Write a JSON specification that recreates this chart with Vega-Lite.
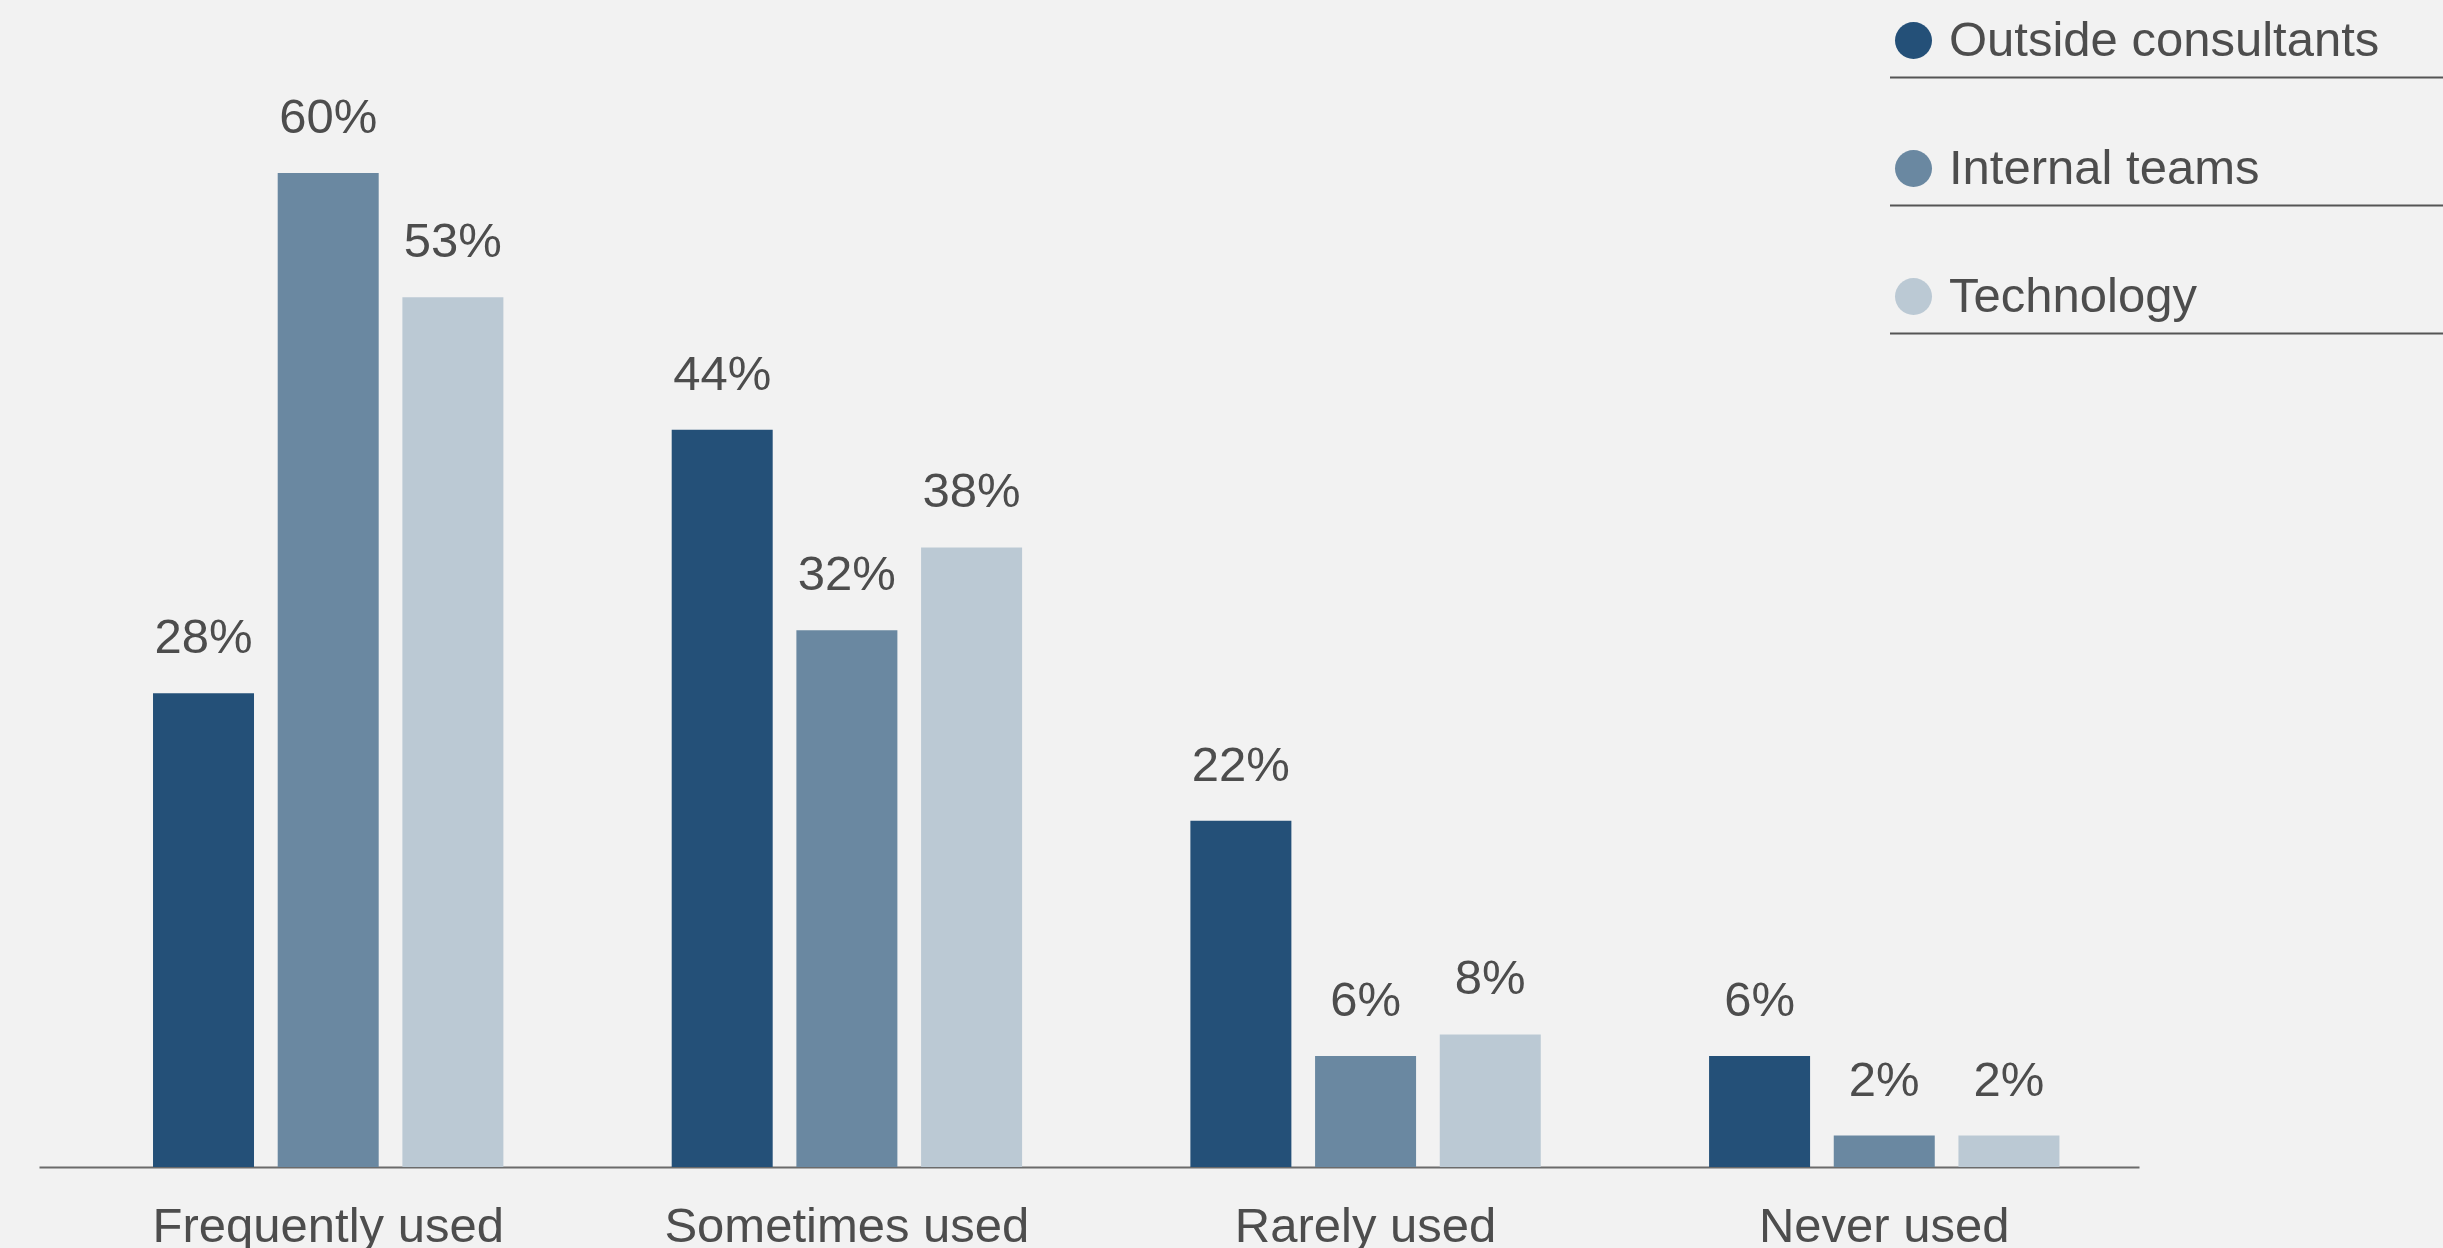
{
  "$schema": "https://vega.github.io/schema/vega-lite/v6.json",
  "width": 2100,
  "height": 994,
  "autosize": {"type": "none"},
  "padding": {"left": 39, "top": 173, "right": 304, "bottom": 81},
  "background": "#f2f2f2",
  "config": {"view": {"stroke": null}, "font": "Liberation Sans"},
  "data": {
    "values": [
      {"usage": "Frequently used", "source": "Outside consultants", "value": 28.6, "label": "28%"},
      {"usage": "Frequently used", "source": "Internal teams", "value": 60.0, "label": "60%"},
      {"usage": "Frequently used", "source": "Technology", "value": 52.5, "label": "53%"},
      {"usage": "Sometimes used", "source": "Outside consultants", "value": 44.5, "label": "44%"},
      {"usage": "Sometimes used", "source": "Internal teams", "value": 32.4, "label": "32%"},
      {"usage": "Sometimes used", "source": "Technology", "value": 37.4, "label": "38%"},
      {"usage": "Rarely used", "source": "Outside consultants", "value": 20.9, "label": "22%"},
      {"usage": "Rarely used", "source": "Internal teams", "value": 6.7, "label": "6%"},
      {"usage": "Rarely used", "source": "Technology", "value": 8.0, "label": "8%"},
      {"usage": "Never used", "source": "Outside consultants", "value": 6.7, "label": "6%"},
      {"usage": "Never used", "source": "Internal teams", "value": 1.9, "label": "2%"},
      {"usage": "Never used", "source": "Technology", "value": 1.9, "label": "2%"}
    ]
  },
  "encoding": {
    "x": {
      "field": "usage",
      "type": "nominal",
      "sort": ["Frequently used", "Sometimes used", "Rarely used", "Never used"],
      "scale": {"paddingInner": 0.3245, "paddingOuter": 0.1866, "align": 0.589},
      "axis": {
        "title": null,
        "labelAngle": 0,
        "labelFontSize": 49,
        "labelColor": "#4d4d4d",
        "labelFont": "Liberation Sans",
        "labelLimit": 0,
        "ticks": false,
        "tickSize": 0,
        "labelPadding": 35,
        "domainColor": "#6b6b6b",
        "domainWidth": 2,
        "grid": false
      }
    },
    "xOffset": {
      "field": "source",
      "type": "nominal",
      "sort": ["Outside consultants", "Internal teams", "Technology"],
      "scale": {"paddingInner": 0.19, "paddingOuter": 0}
    },
    "y": {
      "field": "value",
      "type": "quantitative",
      "scale": {"domain": [0, 60], "nice": false, "zero": true},
      "axis": null
    }
  },
  "layer": [
    {
      "mark": {"type": "bar"},
      "encoding": {
        "color": {
          "field": "source",
          "type": "nominal",
          "sort": ["Outside consultants", "Internal teams", "Technology"],
          "scale": {
            "domain": ["Outside consultants", "Internal teams", "Technology"],
            "range": ["#245078", "#6a88a1", "#bbc9d4"]
          },
          "legend": {
            "orient": "none",
            "legendX": 1850,
            "legendY": -157,
            "title": null,
            "symbolType": "circle",
            "symbolSize": 1369,
            "symbolStrokeWidth": 0,
            "symbolOpacity": 1,
            "labelFontSize": 49,
            "labelFont": "Liberation Sans",
            "labelColor": "#4d4d4d",
            "labelLimit": 1000,
            "labelOffset": 11,
            "rowPadding": 78,
            "padding": 0,
            "zindex": 2
          }
        }
      }
    },
    {
      "mark": {"type": "point", "opacity": 0},
      "encoding": {
        "shape": {
          "field": "source",
          "type": "nominal",
          "scale": {
            "domain": ["Technology", "Internal teams", "Outside consultants"],
            "range": ["M -1 0 L 29 0", "M -1 0 L 29 0", "M -1 0 L 29 0"]
          },
          "legend": {
            "orient": "none",
            "legendX": 1845,
            "legendY": -120,
            "title": null,
            "symbolSize": 1369,
            "symbolStrokeColor": "#555555",
            "symbolFillColor": "transparent",
            "symbolStrokeWidth": 2,
            "symbolOpacity": 1,
            "labelExpr": "''",
            "labelFontSize": 49,
            "labelLimit": 1000,
            "rowPadding": 78,
            "padding": 0,
            "zindex": 1
          }
        }
      }
    },
    {
      "mark": {
        "type": "text",
        "baseline": "alphabetic",
        "dy": -40,
        "fontSize": 49,
        "font": "Liberation Sans",
        "color": "#4d4d4d"
      },
      "encoding": {"text": {"field": "label"}}
    }
  ]
}
